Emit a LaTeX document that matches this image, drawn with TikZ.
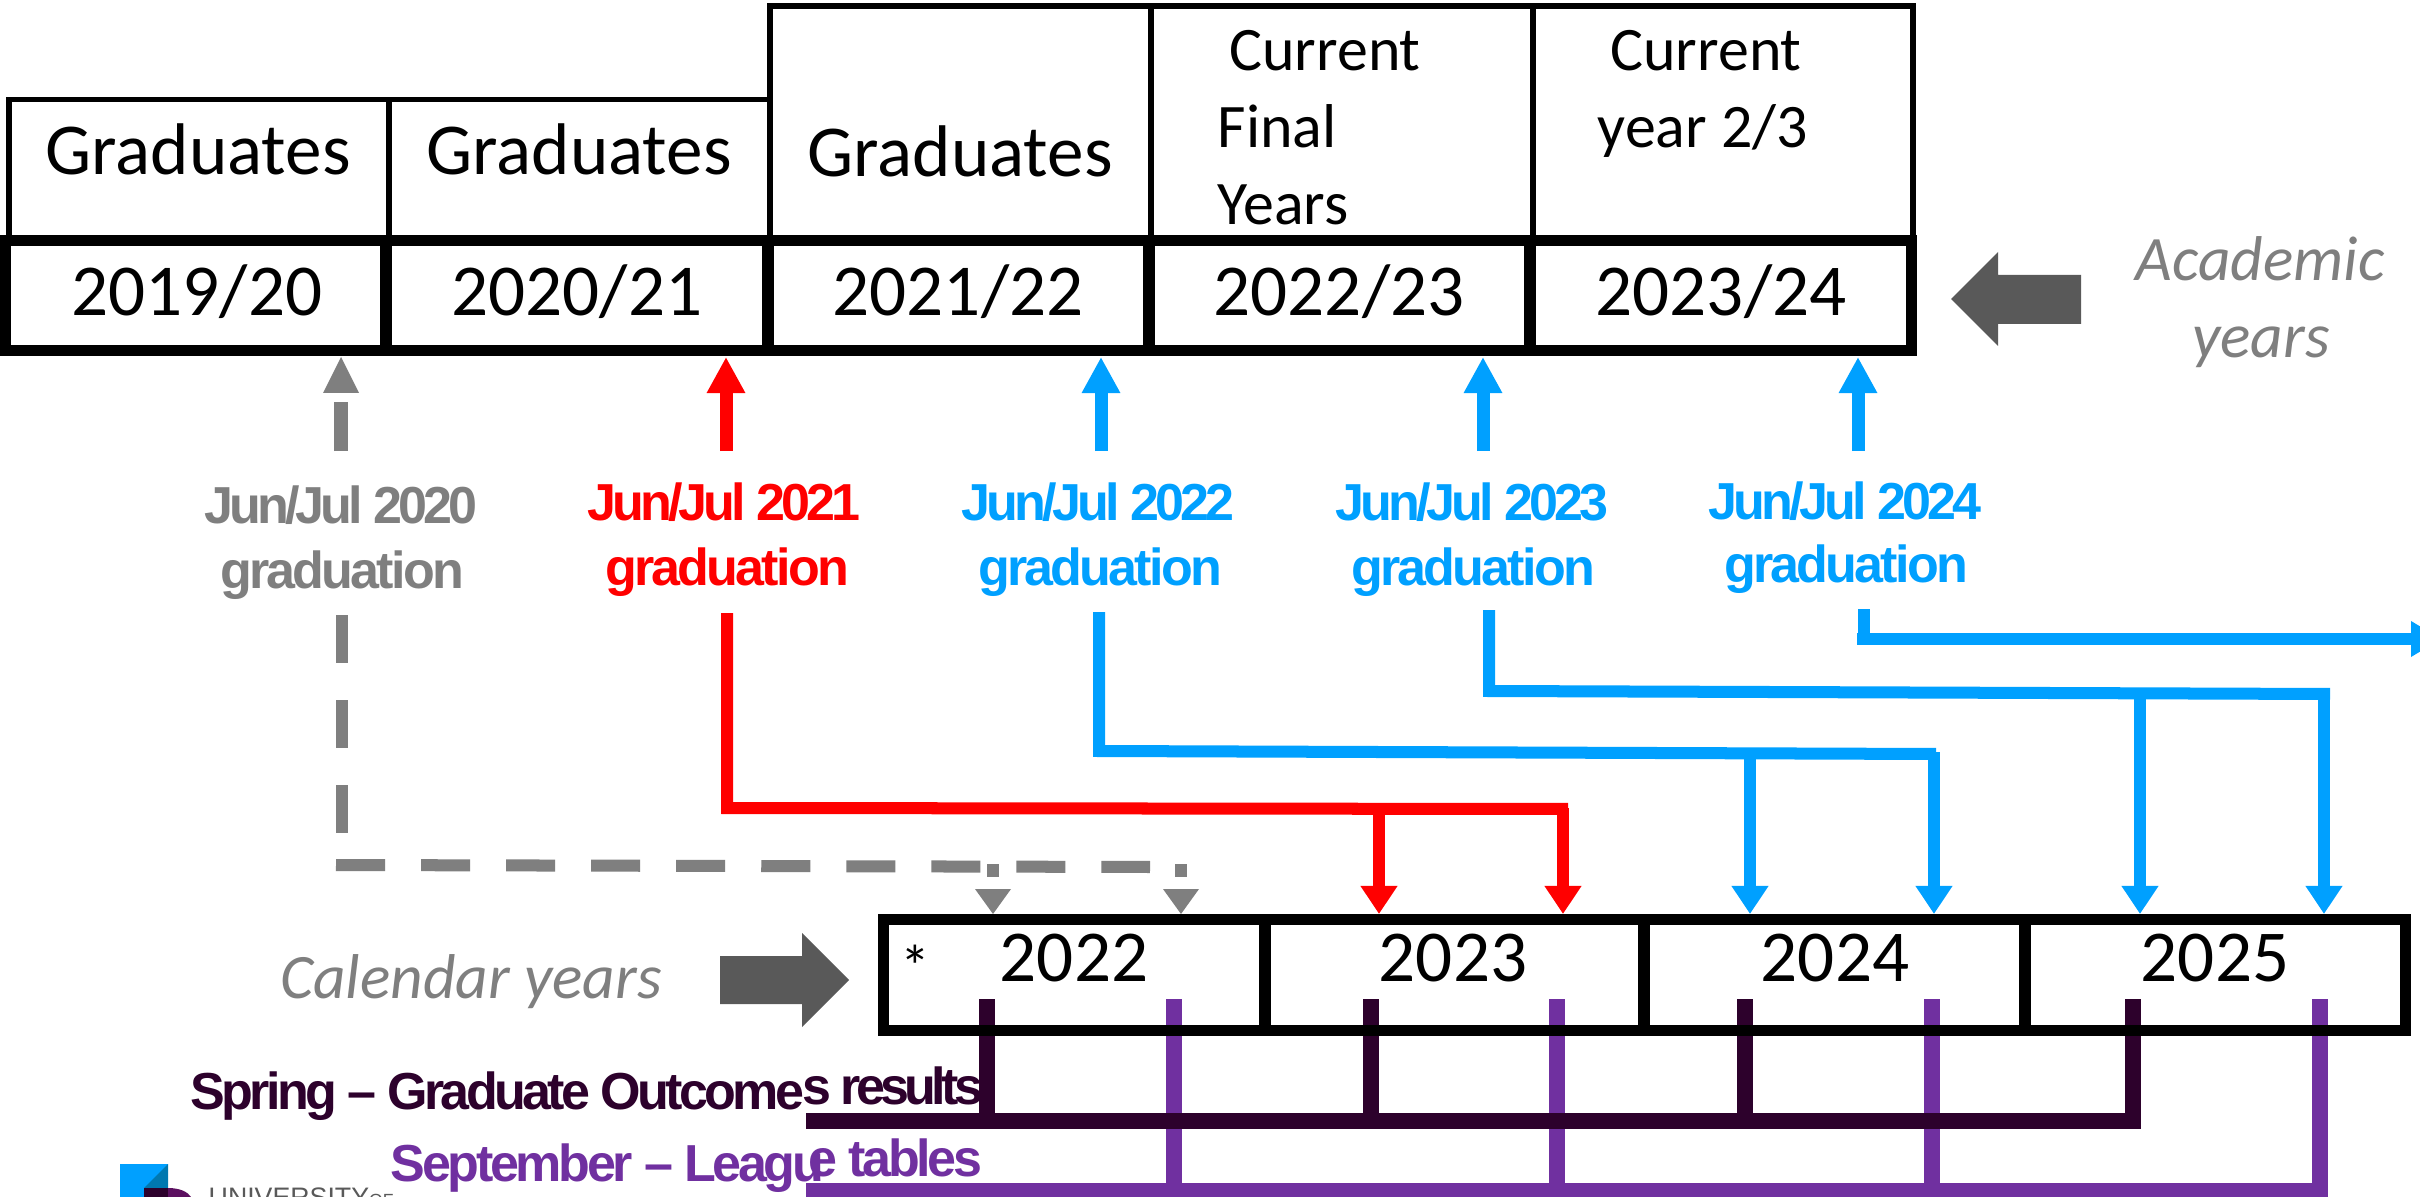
\documentclass[tikz,border=0pt]{standalone}
\usepackage{fontspec}
\setmainfont{Carlito}
\newfontfamily\labfont[LetterSpace=-7.1]{Liberation Sans}
\newfontfamily\labyear[LetterSpace=-7.7]{Liberation Sans}
\newfontfamily\labgrad[LetterSpace=-5.4]{Liberation Sans}
\newfontfamily\labtight[LetterSpace=-9]{Liberation Sans}
\newfontfamily\labmid[LetterSpace=-6.4]{Liberation Sans}
\newfontfamily\logofont{Liberation Sans}
\usetikzlibrary{arrows.meta}
\definecolor{blu}{RGB}{0,160,255}
\definecolor{logoblu}{RGB}{0,120,176}
\definecolor{rd}{RGB}{255,0,0}
\definecolor{gry}{RGB}{127,127,127}
\definecolor{dgry}{RGB}{89,89,89}
\definecolor{dpur}{RGB}{45,1,44}
\definecolor{lpur}{RGB}{112,48,160}
\definecolor{mpur}{RGB}{92,16,96}
\tikzset{
  thincell/.style={draw=black,line width=0.56mm,inner sep=0pt},
  thickcell/.style={draw=black,line width=1.1mm,inner sep=0pt},
  big/.style={anchor=base,inner sep=0pt,text=black,font=\fontsize{20.8}{24}\selectfont},
  mid/.style={anchor=base,inner sep=0pt,text=black,font=\fontsize{17.6}{21}\selectfont},
  midl/.style={mid,anchor=base west},
  note/.style={anchor=base,inner sep=0pt,text=gry,font=\fontsize{18}{22}\selectfont\itshape},
  laby/.style={anchor=base,inner sep=0pt,font=\fontsize{14.8}{18}\selectfont\labyear\bfseries},
  labg/.style={anchor=base,inner sep=0pt,font=\fontsize{14.8}{18}\selectfont\labgrad\bfseries},
  labw/.style={anchor=base west,inner sep=0pt,font=\fontsize{14.8}{18}\selectfont\labfont\bfseries},
  labm/.style={anchor=base west,inner sep=0pt,font=\fontsize{14.8}{18}\selectfont\labmid\bfseries},
  labe/.style={anchor=base east,inner sep=0pt,font=\fontsize{14.8}{18}\selectfont\labmid\bfseries},
  labt/.style={anchor=base east,inner sep=0pt,font=\fontsize{14.8}{18}\selectfont\labtight\bfseries},
  upa/.style={line width=1.3mm,-{Triangle[length=3.6mm,width=3.6mm]}},
  dna/.style={line width=1.2mm,-{Triangle[length=2.8mm,width=3.5mm]}},
  run/.style={line width=1.2mm,line join=miter},
  blockarrow/.style={fill=dgry,draw=none},
  tick/.style={line width=1.6mm},
}
\begin{document}
\begin{tikzpicture}[x=0.01cm,y=-0.01cm]
\useasboundingbox (0,0) rectangle (2420,1197);
\fill[white] (0,0) rectangle (2420,1197);

% --- top table, upper row
\node[thincell,minimum width=3.80cm,minimum height=1.41cm] (g1) at (199,170) {};
\node[thincell,minimum width=3.81cm,minimum height=1.41cm] (g2) at (579.5,170) {};
\node[thincell,minimum width=3.81cm,minimum height=2.34cm] (g3) at (960.5,123) {};
\node[thincell,minimum width=3.82cm,minimum height=2.34cm] (g4) at (1342,123) {};
\node[thincell,minimum width=3.80cm,minimum height=2.34cm] (g5) at (1723,123) {};
% --- top table, year row
\node[thickcell,minimum width=3.80cm,minimum height=1.105cm] (a1) at (196,295.5) {};
\node[thickcell,minimum width=3.82cm,minimum height=1.105cm] (a2) at (577,295.5) {};
\node[thickcell,minimum width=3.81cm,minimum height=1.105cm] (a3) at (958.5,295.5) {};
\node[thickcell,minimum width=3.81cm,minimum height=1.105cm] (a4) at (1339.5,295.5) {};
\node[thickcell,minimum width=3.81cm,minimum height=1.105cm] (a5) at (1720.5,295.5) {};

\node[big] (t1) at (198,175) {Graduates};
\node[big] (t2) at (579,175) {Graduates};
\node[big] (t3) at (960,177) {Graduates};
\node[mid] (t4a) at (1325,71) {Current};
\node[midl] (t4b) at (1217,148) {Final};
\node[midl] (t4c) at (1217,225) {Years};
\node[mid] (t5a) at (1706,71) {Current};
\node[midl] (t5b) at (1597,148) {year 2/3};
\node[big] (y1) at (197,316) {2019/20};
\node[big] (y2) at (577,316) {2020/21};
\node[big] (y3) at (958,316) {2021/22};
\node[big] (y4) at (1339,316) {2022/23};
\node[big] (y5) at (1721,316) {2023/24};

% --- block arrows
\fill[blockarrow] (2081,275) -- (1998,275) -- (1998,252) -- (1951,299) -- (1998,346) -- (1998,324) -- (2081,324) -- cycle;
\node[note] (acad1) at (2260,281) {Academic};
\node[note] (acad2) at (2261,357) {years};
\fill[blockarrow] (720,956) -- (802,956) -- (802,933) -- (849,980) -- (802,1027) -- (802,1004) -- (720,1004) -- cycle;
\node[note] (cal) at (471,998) {Calendar years};

% --- graduation labels
\node[laby,text=gry] (l20a) at (341,523) {Jun/Jul 2020};
\node[labg,text=gry] (l20b) at (342,588) {graduation};
\node[laby,text=rd] (l21a) at (724,521) {Jun/Jul 2021};
\node[labg,text=rd] (l21b) at (727,585) {graduation};
\node[laby,text=blu] (l22a) at (1098,521) {Jun/Jul 2022};
\node[labg,text=blu] (l22b) at (1100,585) {graduation};
\node[laby,text=blu] (l23a) at (1472,521) {Jun/Jul 2023};
\node[labg,text=blu] (l23b) at (1473,585) {graduation};
\node[laby,text=blu] (l24a) at (1845,519) {Jun/Jul 2024};
\node[labg,text=blu] (l24b) at (1846,582) {graduation};

% --- ticks below the calendar row, behind its frame
\foreach \x/\n in {987/a,1371/b,1745/c,2133/d}
  \coordinate (dt\n) at (\x,999);
\foreach \x/\n in {1174/a,1557/b,1932/c,2320/d}
  \coordinate (lt\n) at (\x,999);
\coordinate (ll) at (806,1191);
\coordinate (lr) at (2328,1191);
\coordinate (dl) at (806,1121);
\coordinate (dr) at (2141,1121);
\draw[lpur,line width=1.6mm] (ll) -- (lr);
\foreach \n in {a,b,c,d} \draw[lpur,tick] (lt\n) -- (lt\n |- ll);
\foreach \n in {a,b,c,d} \draw[dpur,tick] (dt\n) -- (dt\n |- dl);
\draw[dpur,line width=1.6mm] (dl) -- (dr);

% --- calendar row
\node[thickcell,minimum width=3.81cm,minimum height=1.10cm] (c22) at (1074.5,975) {};
\node[thickcell,minimum width=3.79cm,minimum height=1.10cm] (c23) at (1454.5,975) {};
\node[thickcell,minimum width=3.81cm,minimum height=1.10cm] (c24) at (1834.5,975) {};
\node[thickcell,minimum width=3.80cm,minimum height=1.10cm] (c25) at (2215,975) {};
\node[big] (n22) at (1074,981) {2022};
\node[big] (n23) at (1453,981) {2023};
\node[big] (n24) at (1835,981) {2024};
\node[big] (n25) at (2215,981) {2025};
\node[anchor=base,inner sep=0pt,font=\fontsize{17}{20}\selectfont] (star) at (915,987) {*};

% --- connectors: grey (dashed)
\coordinate (gA) at (341,357);
\coordinate (gB) at (341,451);
\coordinate (gC) at (342,615);
\coordinate (gD) at (342,833);
\coordinate (gE) at (1150,867);
\coordinate (gF) at (993,864);
\coordinate (gG) at (1181,864);
\draw[gry,line width=1.3mm] (gB) -- (341,402);
\fill[gry] (gA) -- (359,393) -- (323,393) -- cycle;
\draw[gry,line width=1.2mm,dash pattern=on 0.48cm off 0.37cm] (gC) -- (gD);
\draw[gry,line width=1.2mm,dash pattern=on 0.49cm off 0.36cm] (336,865) -- (gE);
\draw[gry,line width=1.2mm] (gF) -- (993,877);
\draw[gry,line width=1.2mm] (gG) -- (1181,877);
\fill[gry] (993,914) -- (975,889) -- (1011,889) -- cycle;
\fill[gry] (1181,914) -- (1163,889) -- (1199,889) -- cycle;

% --- connectors: red
\coordinate (rA) at (726,451);
\coordinate (rB) at (726,357);
\draw[rd,upa] (rA) -- (rB);
\coordinate (rC) at (727,613);
\coordinate (rD) at (727,808);
\coordinate (rE) at (1568,809);
\draw[rd,run] (rC) -- (rD) -- (rE);
\draw[rd,dna] (1379,808) -- (1379,914);
\draw[rd,dna] (1563,808) -- (1563,914);

% --- connectors: blue up
\coordinate (bA) at (1101,451);
\coordinate (bB) at (1483,451);
\coordinate (bC) at (1858,451);
\draw[blu,upa] (bA) -- (1101,357);
\draw[blu,upa] (bB) -- (1483,357);
\draw[blu,upa] (bC) -- (1858,357);

% --- connectors: blue down
\coordinate (b22t) at (1099,612);
\coordinate (b22m) at (1099,751);
\coordinate (b22r) at (1936,754);
\draw[blu,run] (b22t) -- (b22m) -- (b22r);
\draw[blu,dna] (1750,752) -- (1750,914);
\draw[blu,dna] (1934,752) -- (1934,914);
\coordinate (b23t) at (1489,610);
\coordinate (b23m) at (1489,691);
\coordinate (b23r) at (2330,694);
\draw[blu,run] (b23t) -- (b23m) -- (b23r);
\draw[blu,dna] (2140,693) -- (2140,914);
\draw[blu,dna] (2324,693) -- (2324,914);
\coordinate (b24t) at (1864,609);
\coordinate (b24m) at (1864,639);
\coordinate (b24r) at (2411,639);
\draw[blu,line width=1.2mm] (b24t) -- (b24m);
\draw[blu,line width=1.2mm] (1857,639) -- (b24r);
\fill[blu] (2411,621) -- (2441,639) -- (2411,657) -- cycle;

% --- bottom labels
\node[labw,text=dpur] (sp1) at (190,1109) {Spring – Graduate Outcome};
\node[labt,text=dpur] (sp2) at (984,1104) {s results};
\node[labm,text=lpur] (se1) at (390,1181) {September – Leagu};
\node[labe,text=lpur] (se2) at (983,1176) {e tables};

% --- logo
\fill[blu] (120,1164) rectangle (168,1197);
\fill[logoblu] (168,1164) -- (144,1188) -- (144,1197) -- (168,1197) -- cycle;
\fill[dpur] (144,1188) rectangle (168,1197);
\fill[mpur] (168,1188) .. controls (180,1188) and (188,1192) .. (191,1197) -- (168,1197) -- cycle;
\node[anchor=base west,inner sep=0pt,text=dgry,font=\fontsize{7.6}{9}\selectfont\logofont] (uni) at (208,1206) {UNIVERSITY\fontsize{5}{6}\selectfont OF};
\end{tikzpicture}
\end{document}
